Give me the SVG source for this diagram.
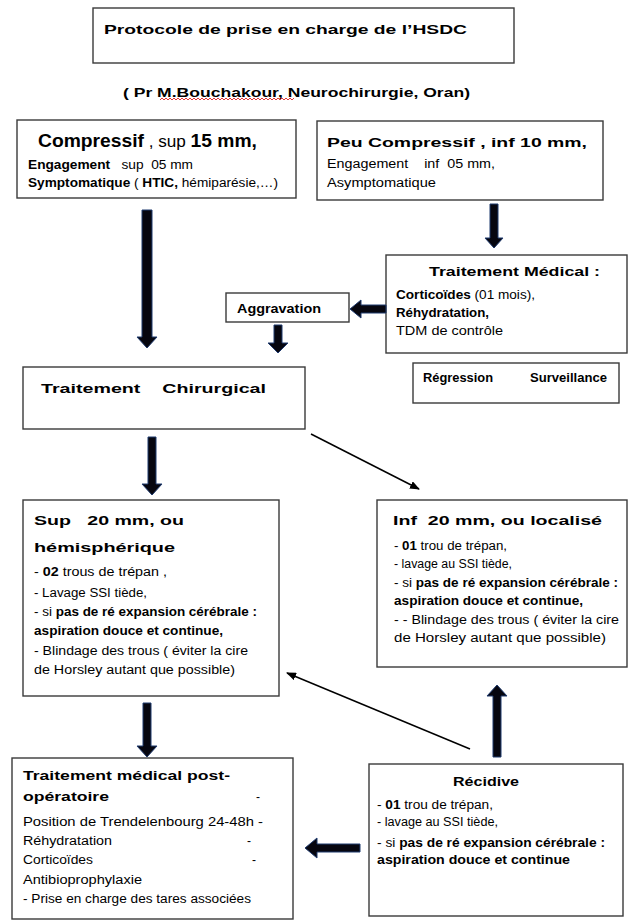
<svg xmlns="http://www.w3.org/2000/svg" width="628" height="920" viewBox="0 0 628 920" xml:space="preserve">
<defs>
<style>
text{font-family:"Liberation Sans",Arial,sans-serif;fill:#000;font-size:12px;white-space:pre}
.b{font-weight:bold}
.box{fill:#fff;stroke:#3a3a3a;stroke-width:1.4}
.big{fill:#06060f;stroke:#1f3a6e;stroke-width:1}
.thin{stroke:#000;stroke-width:1.5;fill:none}
</style>
<marker id="ah" markerWidth="10" markerHeight="8" refX="9" refY="4" orient="auto" markerUnits="userSpaceOnUse">
<path d="M0,0 L10,4 L0,8 Z" fill="#000"/>
</marker>
</defs>
<rect width="628" height="920" fill="#fff"/>

<g id="title">
<rect class="box" x="93" y="8" width="421" height="55"/>
<text class="b" x="104" y="34" font-size="19" textLength="363" lengthAdjust="spacingAndGlyphs">Protocole de prise en charge de l’HSDC</text>
</g>
<g id="subtitle">
<text class="b" x="123" y="97" font-size="16" textLength="347" lengthAdjust="spacingAndGlyphs">( Pr M.Bouchakour, Neurochirurgie, Oran)</text>
<path d="M160,100 l2,-2 l2,2 l2,-2 l2,2 l2,-2 l2,2 l2,-2 l2,2 l2,-2 l2,2 l2,-2 l2,2 l2,-2 l2,2 l2,-2 l2,2 l2,-2 l2,2 l2,-2 l2,2 l2,-2 l2,2 l2,-2 l2,2 l2,-2 l2,2 l2,-2 l2,2 l2,-2 l2,2 l2,-2 l2,2 l2,-2 l2,2 l2,-2 l2,2 l2,-2 l2,2 l2,-2 l2,2 l2,-2 l2,2 l2,-2 l2,2 l2,-2 l2,2 l2,-2 l2,2 l2,-2 l2,2 l2,-2 l2,2 l2,-2 l2,2 l2,-2 l2,2 l2,-2 l2,2 l2,-2 l2,2 l2,-2 l2,2 l2,-2 l2,2 l2,-2 l2,2 l2,-2" fill="none" stroke="#e02020" stroke-width="0.9"/>
</g>

<g id="compressif">
<rect class="box" x="17" y="120" width="279" height="78"/>
<text x="38" y="147" textLength="219" lengthAdjust="spacingAndGlyphs"><tspan class="b" font-size="18">Compressif</tspan><tspan font-size="16"> , sup </tspan><tspan class="b" font-size="18">15 mm,</tspan></text>
<text x="28" y="169" textLength="165" lengthAdjust="spacingAndGlyphs"><tspan class="b">Engagement</tspan>   sup  05 mm</text>
<text x="28" y="187" textLength="250" lengthAdjust="spacingAndGlyphs"><tspan class="b">Symptomatique</tspan> ( <tspan class="b">HTIC,</tspan> hémiparésie,…)</text>
</g>

<g id="peu-compressif">
<rect class="box" x="317" y="121" width="286" height="79"/>
<text class="b" x="327" y="147" font-size="18" textLength="260" lengthAdjust="spacingAndGlyphs">Peu Compressif , inf 10 mm,</text>
<text x="327" y="168" textLength="168" lengthAdjust="spacingAndGlyphs">Engagement    inf  05 mm,</text>
<text x="327" y="187" textLength="109" lengthAdjust="spacingAndGlyphs">Asymptomatique</text>
</g>

<g id="traitement-medical">
<rect class="box" x="386" y="255" width="241" height="98"/>
<text class="b" x="429" y="276" font-size="16" textLength="171" lengthAdjust="spacingAndGlyphs">Traitement Médical :</text>
<text x="396" y="299" textLength="139" lengthAdjust="spacingAndGlyphs"><tspan class="b">Corticoïdes</tspan> (01 mois),</text>
<text class="b" x="396" y="317" textLength="93" lengthAdjust="spacingAndGlyphs">Réhydratation,</text>
<text x="396" y="335" textLength="107" lengthAdjust="spacingAndGlyphs">TDM de contrôle</text>
</g>

<g id="aggravation">
<rect class="box" x="226" y="293" width="123" height="29"/>
<text class="b" x="237" y="313" textLength="84" lengthAdjust="spacingAndGlyphs">Aggravation</text>
</g>

<g id="regression">
<rect class="box" x="413" y="363" width="206" height="40"/>
<text class="b" x="423" y="382" textLength="70" lengthAdjust="spacingAndGlyphs">Régression</text>
<text class="b" x="530" y="382" textLength="77" lengthAdjust="spacingAndGlyphs">Surveillance</text>
</g>

<g id="chirurgical">
<rect class="box" x="23" y="367" width="282" height="62"/>
<text class="b" x="41" y="393" font-size="18" textLength="225" lengthAdjust="spacingAndGlyphs">Traitement    Chirurgical</text>
</g>

<g id="sup20">
<rect class="box" x="23" y="500" width="256" height="196"/>
<text class="b" x="34" y="525" font-size="19" textLength="150" lengthAdjust="spacingAndGlyphs">Sup   20 mm, ou</text>
<text class="b" x="34" y="552" font-size="19" textLength="141" lengthAdjust="spacingAndGlyphs">hémisphérique</text>
<text x="34" y="576" textLength="133" lengthAdjust="spacingAndGlyphs">- <tspan class="b">02</tspan> trous de trépan ,</text>
<text x="34" y="597" textLength="113" lengthAdjust="spacingAndGlyphs">- Lavage SSI tiède,</text>
<text x="34" y="616" textLength="223" lengthAdjust="spacingAndGlyphs">- si <tspan class="b">pas de ré expansion cérébrale :</tspan></text>
<text class="b" x="34" y="635" textLength="189" lengthAdjust="spacingAndGlyphs">aspiration douce et continue,</text>
<text x="34" y="655" textLength="214" lengthAdjust="spacingAndGlyphs">- Blindage des trous ( éviter la cire</text>
<text x="34" y="674" textLength="201" lengthAdjust="spacingAndGlyphs">de Horsley autant que possible)</text>
</g>

<g id="inf20">
<rect class="box" x="377" y="500" width="250" height="167"/>
<text class="b" x="393" y="525" font-size="19" textLength="209" lengthAdjust="spacingAndGlyphs">Inf  20 mm, ou localisé</text>
<text x="394" y="550" textLength="113" lengthAdjust="spacingAndGlyphs">- <tspan class="b">01</tspan> trou de trépan,</text>
<text x="394" y="568" textLength="118" lengthAdjust="spacingAndGlyphs">- lavage au SSI tiède,</text>
<text x="394" y="587" textLength="224" lengthAdjust="spacingAndGlyphs">- si <tspan class="b">pas de ré expansion cérébrale :</tspan></text>
<text class="b" x="394" y="605" textLength="189" lengthAdjust="spacingAndGlyphs">aspiration douce et continue,</text>
<text x="394" y="624" textLength="225" lengthAdjust="spacingAndGlyphs">- - Blindage des trous ( éviter la cire</text>
<text x="394" y="642" textLength="212" lengthAdjust="spacingAndGlyphs">de Horsley autant que possible)</text>
</g>

<g id="recidive">
<rect class="box" x="369" y="764" width="254" height="152"/>
<text class="b" x="453" y="786" font-size="16" textLength="66" lengthAdjust="spacingAndGlyphs">Récidive</text>
<text x="377" y="809" textLength="116" lengthAdjust="spacingAndGlyphs">- <tspan class="b">01</tspan> trou de trépan,</text>
<text x="377" y="826" textLength="121" lengthAdjust="spacingAndGlyphs">- lavage au SSI tiède,</text>
<text x="377" y="847" textLength="228" lengthAdjust="spacingAndGlyphs">- si <tspan class="b">pas de ré expansion cérébrale :</tspan></text>
<text class="b" x="377" y="864" textLength="193" lengthAdjust="spacingAndGlyphs">aspiration douce et continue</text>
</g>

<g id="post-op">
<rect class="box" x="12" y="758" width="281" height="161"/>
<text class="b" x="23" y="780" font-size="17" textLength="207" lengthAdjust="spacingAndGlyphs">Traitement médical post-</text>
<text class="b" x="23" y="801" font-size="17" textLength="86" lengthAdjust="spacingAndGlyphs">opératoire</text>
<text x="256" y="801">-</text>
<text x="23" y="826" textLength="240" lengthAdjust="spacingAndGlyphs">Position de Trendelenbourg 24-48h -</text>
<text x="23" y="845" textLength="89" lengthAdjust="spacingAndGlyphs">Réhydratation</text>
<text x="247" y="845">-</text>
<text x="23" y="864" textLength="70" lengthAdjust="spacingAndGlyphs">Corticoïdes</text>
<text x="252" y="864">-</text>
<text x="23" y="884" textLength="119" lengthAdjust="spacingAndGlyphs">Antibioprophylaxie</text>
<text x="23" y="903" textLength="228" lengthAdjust="spacingAndGlyphs">- Prise en charge des tares associées</text>
</g>

<g id="connectors">
<polygon class="big" points="142,210 152,210 152,337 157,337 147,348 137,337 142,337"/>
<polygon class="big" points="490,204 498,204 498,238 503,238 494,248 485,238 490,238"/>
<polygon class="big" points="386,305 386,313 361,313 361,318 350,309 361,300 361,305"/>
<polygon class="big" points="274,325 282,325 282,343 288,343 278,353 268,343 274,343"/>
<polygon class="big" points="148,437 156,437 156,484 162,484 152,495 142,484 148,484"/>
<polygon class="big" points="143,703 151,703 151,746 157,746 147,757 137,746 143,746"/>
<polygon class="big" points="493,757 501,757 501,696 507,696 497,685 487,696 493,696"/>
<polygon class="big" points="360,844 360,852 317,852 317,858 305,848 317,838 317,844"/>
<line class="thin" x1="311" y1="434" x2="419" y2="489" marker-end="url(#ah)"/>
<line class="thin" x1="470" y1="749" x2="287" y2="673" marker-end="url(#ah)"/>
</g>
</svg>
